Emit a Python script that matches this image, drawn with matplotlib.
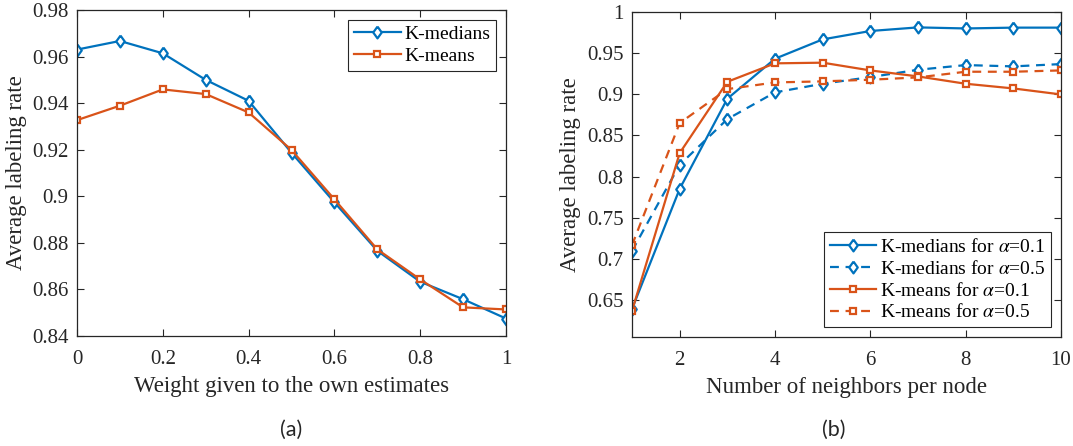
import matplotlib.pyplot as plt

plt.rcParams['font.family'] = ['Liberation Serif', 'DejaVu Serif']
plt.rcParams['mathtext.fontset'] = 'stix'

BLUE = '#0072BD'
ORANGE = '#D95319'

# (a) labeling rate vs. weight on own estimates
weights = [0, 0.1, 0.2, 0.3, 0.4, 0.5, 0.6, 0.7, 0.8, 0.9, 1.0]
kmed_a = [0.963, 0.9667, 0.9614, 0.950, 0.941, 0.9187, 0.8974, 0.8766, 0.8633, 0.8558, 0.8475]
kmean_a = [0.9327, 0.9389, 0.9459, 0.9439, 0.936, 0.9199, 0.8987, 0.8772, 0.8643, 0.8523, 0.8514]

# (b) labeling rate vs. neighbors per node
neighbors = [1, 2, 3, 4, 5, 6, 7, 8, 9, 10]
kmed_01 = [0.639, 0.785, 0.8946, 0.9432, 0.9667, 0.9769, 0.9813, 0.980, 0.981, 0.981]
kmed_05 = [0.7096, 0.8143, 0.8698, 0.9023, 0.9128, 0.9209, 0.9298, 0.9355, 0.9339, 0.9367]
kmean_01 = [0.6367, 0.8285, 0.9152, 0.9376, 0.9384, 0.929, 0.9217, 0.9128, 0.9071, 0.8998]
kmean_05 = [0.7165, 0.865, 0.9063, 0.9144, 0.9157, 0.9177, 0.9205, 0.9274, 0.9274, 0.929]

tick_fs = 15
label_fs = 16.5
fig = plt.figure(figsize=(10.73, 4.46), dpi=100)
ax1 = fig.add_axes([77 / 1073, 1 - 336 / 446, 429 / 1073, 326 / 446])
ax2 = fig.add_axes([632 / 1073, 1 - 337 / 446, 429 / 1073, 325 / 446])

# MATLAB-style diamond: a bit narrower than tall
diamond = [(0, 1), (0.72, 0), (0, -1), (-0.72, 0), (0, 1)]
mk = dict(markerfacecolor='white', markeredgewidth=1.6, linewidth=1.6)
dia = dict(marker=diamond, markersize=8.5)
sq = dict(marker='s', markersize=4.5)

ax1.plot(weights, kmed_a, color=BLUE, label='K-medians', **dia, **mk)
ax1.plot(weights, kmean_a, color=ORANGE, label='K-means', **sq, **mk)
ax1.set_xlim(0, 1)
ax1.set_ylim(0.84, 0.98)
ax1.set_xticks([0, 0.2, 0.4, 0.6, 0.8, 1])
ax1.set_xticklabels(['0', '0.2', '0.4', '0.6', '0.8', '1'])
ax1.set_yticks([0.84, 0.86, 0.88, 0.9, 0.92, 0.94, 0.96, 0.98])
ax1.set_yticklabels(['0.84', '0.86', '0.88', '0.9', '0.92', '0.94', '0.96', '0.98'])
ax1.set_xlabel('Weight given to the own estimates', fontsize=label_fs, color='#262626', labelpad=5)
ax1.set_ylabel('Average labeling rate', fontsize=label_fs, color='#262626')

dash = (0, (4, 3))
ax2.plot(neighbors, kmed_01, color=BLUE, linestyle='-',
         label=r'K-medians for $\alpha$=0.1', **dia, **mk)
ax2.plot(neighbors, kmed_05, color=BLUE, linestyle=dash,
         label=r'K-medians for $\alpha$=0.5', **dia, **mk)
ax2.plot(neighbors, kmean_01, color=ORANGE, linestyle='-',
         label=r'K-means for $\alpha$=0.1', **sq, **mk)
ax2.plot(neighbors, kmean_05, color=ORANGE, linestyle=dash,
         label=r'K-means for $\alpha$=0.5', **sq, **mk)
ax2.set_xlim(1, 10)
ax2.set_ylim(0.605, 1)
ax2.set_xticks([2, 4, 6, 8, 10])
ax2.set_xticklabels(['2', '4', '6', '8', '10'])
ax2.set_yticks([0.65, 0.7, 0.75, 0.8, 0.85, 0.9, 0.95, 1])
ax2.set_yticklabels(['0.65', '0.7', '0.75', '0.8', '0.85', '0.9', '0.95', '1'])
ax2.set_xlabel('Number of neighbors per node', fontsize=label_fs, color='#262626', labelpad=5)
ax2.set_ylabel('Average labeling rate', fontsize=label_fs, color='#262626')

for ax in (ax1, ax2):
    ax.tick_params(direction='in', top=True, right=True, labelsize=tick_fs,
                   colors='#262626', length=5, width=0.8)
    ax.tick_params(axis='x', pad=10)
    ax.tick_params(axis='y', pad=6)
    for s in ax.spines.values():
        s.set_color('#262626')
        s.set_linewidth(0.9)

legend_kw = dict(fontsize=14, fancybox=False, framealpha=1, edgecolor='#262626',
                 borderpad=0.3, handlelength=2.4, handletextpad=0.2,
                 labelspacing=0.2, borderaxespad=0.5)
leg1 = ax1.legend(loc='upper right', **legend_kw)
leg2 = ax2.legend(loc='lower right', **legend_kw)
for leg in (leg1, leg2):
    leg.get_frame().set_linewidth(0.8)

fig.text(291 / 1073, 1 - 430 / 446, '(a)', ha='center', va='center', fontsize=15.5,
         family=['Lato', 'DejaVu Sans'], color='#262626')
fig.text(834 / 1073, 1 - 430 / 446, '(b)', ha='center', va='center', fontsize=15.5,
         family=['Lato', 'DejaVu Sans'], color='#262626')

fig.savefig('out.png', dpi=100)
